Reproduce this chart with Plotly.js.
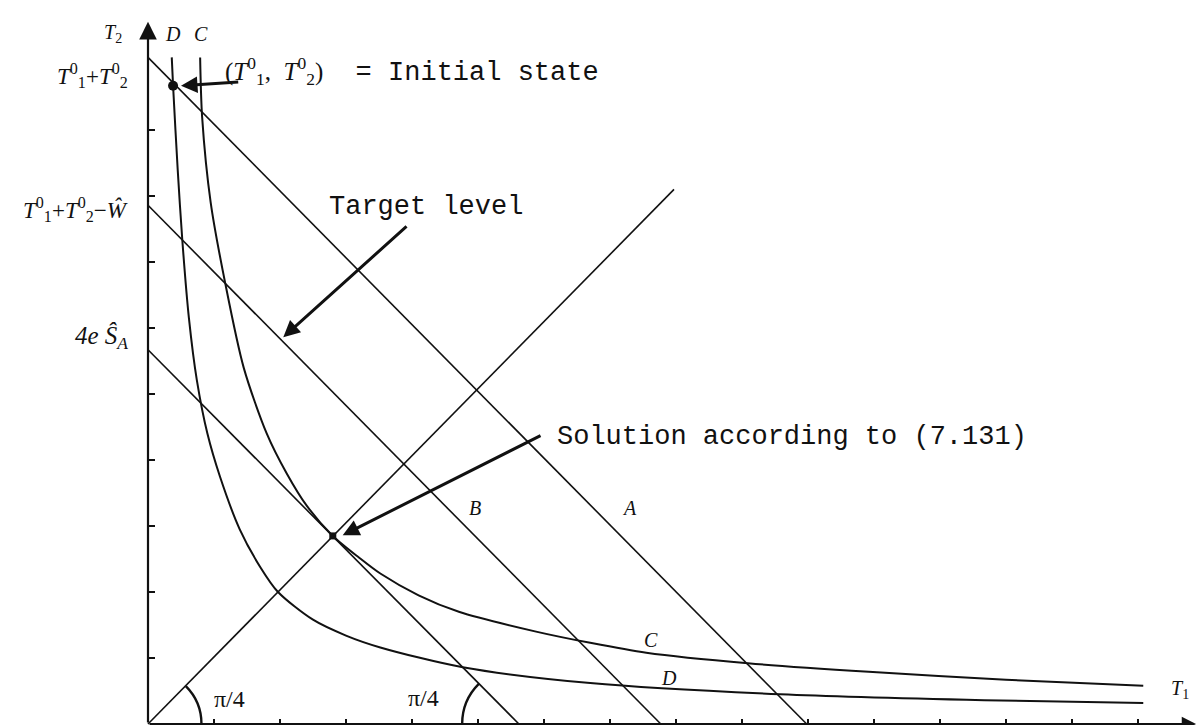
<!DOCTYPE html>
<html>
<head>
<meta charset="utf-8">
<script src="https://cdn.plot.ly/plotly-3.0.1.min.js"></script>
<style>
  html, body { margin: 0; padding: 0; background: #fff; }
  #chart { width: 1202px; height: 725px; }
</style>
</head>
<body>
<div id="chart"></div>
<script>
// Indifference-curve diagram: T1 on the x axis, T2 on the y axis.
// All values are in axis units (one tick = one unit).

// Straight lines A, B and the 4e*S_A line (pairs of end points)
const lineAX = [0, 9.98];
const lineAY = [10.1, 0];
const lineBX = [0, 7.77];
const lineBY = [7.86, 0];
const lineSX = [0, 5.62];
const lineSY = [5.67, 0];

// 45 degree ray from the origin
const diagX = [0, 7.97];
const diagY = [0, 8.1];

// Curve C (passes through the solution point)
const curveCX = [0.79, 0.82, 0.95, 1.17, 1.45, 1.8, 2.1, 2.41, 2.8, 3.2, 3.52, 4.1, 4.71, 5.88, 6.7, 7.55, 9.09, 10.92, 13, 15.08];
const curveCY = [10.1, 9.2, 7.9, 6.68, 5.4, 4.4, 3.8, 3.3, 2.85, 2.52, 2.28, 1.95, 1.7, 1.4, 1.23, 1.08, 0.92, 0.79, 0.67, 0.58];

// Curve D (passes through the initial state)
const curveDX = [0.36, 0.38, 0.45, 0.52, 0.62, 0.74, 0.9, 1.09, 1.39, 1.7, 1.97, 2.5, 3.0, 3.52, 4.77, 6.7, 9.58, 12.67, 15.08];
const curveDY = [10.1, 9.67, 8.4, 7.33, 6.15, 5.21, 4.4, 3.75, 2.95, 2.38, 2.0, 1.58, 1.34, 1.16, 0.86, 0.62, 0.45, 0.36, 0.32];

// Marked points
const initialPoint = { x: [0.38], y: [9.67] };
const solutionPoint = { x: [2.8], y: [2.85] };

// Tick positions on both axes
const xTicks = [1, 2, 3, 4, 5, 6, 7, 8, 9, 10, 11, 12, 13, 14, 15];
const yTicks = [1, 2, 3, 4, 5, 6, 7, 8, 9];

const ink = '#111';
const mono = 'Liberation Mono, Courier New, monospace';
const serif = 'Liberation Serif, DejaVu Serif, serif';

function seg(x, y, w, shape) {
    return {
        x: x, y: y, type: 'scatter', mode: 'lines',
        line: { color: ink, width: w, shape: shape || 'linear', smoothing: 0.8 },
        hoverinfo: 'skip', showlegend: false
    };
}

const traces = [
    seg(lineAX, lineAY, 1.6),
    seg(lineBX, lineBY, 1.6),
    seg(lineSX, lineSY, 1.6),
    seg(diagX, diagY, 1.6),
    seg(curveCX, curveCY, 2, 'spline'),
    seg(curveDX, curveDY, 2, 'spline'),
    {
        x: initialPoint.x, y: initialPoint.y, type: 'scatter', mode: 'markers',
        marker: { color: ink, size: 10, symbol: 'circle' },
        hoverinfo: 'skip', showlegend: false
    },
    {
        x: solutionPoint.x, y: solutionPoint.y, type: 'scatter', mode: 'markers',
        marker: { color: ink, size: 7, symbol: 'square' },
        hoverinfo: 'skip', showlegend: false
    }
];

// arrows drawn in data units
function arrow(x, y, ax, ay, w, head, size) {
    return {
        x: x, y: y, ax: ax, ay: ay, xref: 'x', yref: 'y', axref: 'x', ayref: 'y',
        text: '', showarrow: true, arrowhead: head, arrowsize: size,
        arrowwidth: w, arrowcolor: ink, standoff: 0, startstandoff: 0
    };
}

function label(x, y, text, font, anchor) {
    return {
        x: x, y: y, xref: 'x', yref: 'y', text: text, showarrow: false,
        xanchor: anchor || 'center', yanchor: 'middle', font: font
    };
}

const monoFont = { family: mono, size: 27, color: ink };
const italFont = { family: serif, size: 20, color: ink };
const axisLabelFont = { family: serif, size: 23, color: ink };
const T = (a, b) => `<i>T</i><sup>${a}</sup><sub>${b}</sub>`;
const serifSpan = s => `<span style="font-family:'Liberation Serif';font-size:25px">${s}</span>`;

const annotations = [
    // axes
    arrow(0, 10.64, 0, 0, 2.2, 2, 1.6),
    arrow(15.88, 0, 0, 0, 2.2, 2, 1.3),
    // pointers
    arrow(0.5, 9.67, 1.39, 9.73, 3, 2, 1.1),
    arrow(2.05, 5.86, 3.94, 7.56, 3, 2, 1.1),
    arrow(2.95, 2.86, 5.97, 4.38, 3, 2, 1.1),
    // texts
    label(1.14, 9.9, serifSpan('(' + T('0', '1') + ',&nbsp;&nbsp;' + T('0', '2') + ')') + '&nbsp;&nbsp;= Initial state', monoFont, 'left'),
    label(2.71, 7.83, 'Target level', monoFont, 'left'),
    label(6.17, 4.35, 'Solution according to (7.131)', monoFont, 'left'),
    label(-0.27, 9.83, T('0', '1') + '+' + T('0', '2'), axisLabelFont, 'right'),
    label(-0.27, 7.79, T('0', '1') + '+' + T('0', '2') + '−<i>Ŵ</i>', axisLabelFont, 'right'),
    label(-0.27, 5.86, '<i>4e</i>&nbsp;<i>Ŝ</i><sub><i>A</i></sub>', { family: serif, size: 25, color: ink }, 'right'),
    label(-0.53, 10.47, '<i>T</i><sub>2</sub>', italFont),
    label(15.64, 0.52, '<i>T</i><sub>1</sub>', italFont),
    label(0.38, 10.45, '<i>D</i>', italFont),
    label(0.8, 10.45, '<i>C</i>', italFont),
    label(7.3, 3.27, '<i>A</i>', italFont),
    label(4.95, 3.27, '<i>B</i>', italFont),
    label(7.62, 1.27, '<i>C</i>', italFont),
    label(7.9, 0.7, '<i>D</i>', italFont),
    label(1.24, 0.38, 'π/4', { family: serif, size: 24, color: ink }),
    label(4.17, 0.39, 'π/4', { family: serif, size: 24, color: ink })
];

// the two pi/4 angle arcs (cubic approximations of circle arcs)
const shapes = [
    {
        type: 'path', xref: 'x', yref: 'y',
        path: 'M 0.81 0 C 0.81 0.215, 0.725 0.421, 0.573 0.573',
        line: { color: ink, width: 2.4 }
    },
    {
        type: 'path', xref: 'x', yref: 'y',
        path: 'M 4.76 0 C 4.76 0.228, 4.851 0.447, 5.012 0.608',
        line: { color: ink, width: 2.4 }
    }
];

const layout = {
    width: 1202,
    height: 725,
    margin: { l: 0, r: 0, t: 0, b: 0 },
    paper_bgcolor: '#fff',
    plot_bgcolor: '#fff',
    showlegend: false,
    xaxis: {
        range: [-2.2424, 15.970],
        anchor: 'free', position: 1 / 725,
        showgrid: false, zeroline: false, showline: false,
        tickmode: 'array', tickvals: xTicks, ticks: 'inside',
        ticklen: 5, tickwidth: 1.5, tickcolor: ink,
        showticklabels: false, fixedrange: true
    },
    yaxis: {
        range: [-0.01515, 10.970],
        anchor: 'free', position: 148 / 1202,
        showgrid: false, zeroline: false, showline: false,
        tickmode: 'array', tickvals: yTicks, ticks: 'inside',
        ticklen: 6, tickwidth: 1.5, tickcolor: ink,
        showticklabels: false, fixedrange: true
    },
    annotations: annotations,
    shapes: shapes
};

Plotly.newPlot('chart', traces, layout, { displayModeBar: false, staticPlot: true });
</script>
</body>
</html>
